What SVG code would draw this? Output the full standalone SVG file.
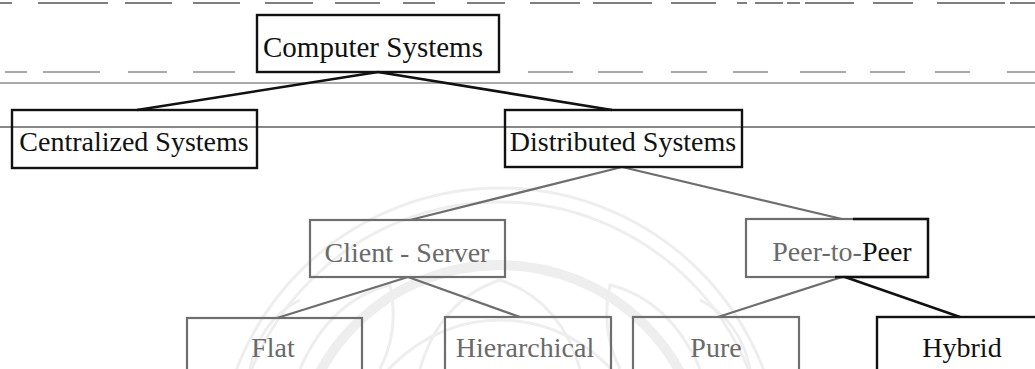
<svg xmlns="http://www.w3.org/2000/svg" width="1035" height="369" viewBox="0 0 1035 369">
  <style>
    .lbl { font-family: "Liberation Serif", "Times New Roman", serif; font-size: 28px; text-anchor: middle; }
    .dark { fill: #111; }
    .grey { fill: #6a6a6a; }
    .box-dark { fill: none; stroke: #111; stroke-width: 2.4; }
    .box-grey { fill: none; stroke: #6e6e6e; stroke-width: 2.2; }
    .ln-dark { stroke: #111; stroke-width: 2.6; fill: none; }
    .ln-grey { stroke: #6e6e6e; stroke-width: 2.3; fill: none; }
    .rule { stroke: #555; fill: none; }
    .seal { fill: none; stroke: #eeeeee; }
  </style>

  <rect width="1035" height="369" fill="#fff"/>

  <!-- faint seal in the background -->
  <g id="seal">
    <circle class="seal" cx="500" cy="470" r="282" stroke-width="3"/>
    <circle class="seal" cx="500" cy="470" r="268" stroke-width="3"/>
    <circle class="seal" cx="500" cy="470" r="205" stroke-width="10"/>
    <circle class="seal" cx="500" cy="470" r="150" stroke-width="3"/>
    <path class="seal" stroke-width="3" d="M300 369 Q330 300 390 285 Q400 330 380 369"/>
    <path class="seal" stroke-width="3" d="M700 369 Q670 300 610 285 Q600 330 620 369"/>
    <path class="seal" stroke-width="3" d="M420 369 Q440 300 500 280 Q560 300 580 369"/>
    <path class="seal" stroke-width="3" d="M250 369 Q260 320 300 300"/>
    <path class="seal" stroke-width="3" d="M750 369 Q740 320 700 300"/>
  </g>

  <!-- page rules -->
  <g id="rules">
    <line class="rule" x1="0" y1="3" x2="1035" y2="3" stroke-width="1.5" stroke-dasharray="12 26 70 17 47 21 47 25 48 22 45 23 32 32 38 25 50 13 59 19 45 21 10 8 28 4 13 5 49 19 40 24 68 5 30"/>
    <line class="rule" x1="5" y1="72" x2="1035" y2="72" stroke-width="1.2" stroke-dasharray="22 16 57 28 39 26 42 293 45 25 45 28 36 26 35 32 46 24 35 30 35 37 28"/>
    <line class="rule" x1="0" y1="83" x2="1035" y2="83" stroke-width="1"/>
    <line x1="0" y1="127" x2="1035" y2="127" stroke="#888" stroke-width="2"/>
  </g>

  <!-- connectors -->
  <g id="connectors">
    <line class="ln-dark" x1="378" y1="72" x2="137" y2="110"/>
    <line class="ln-dark" x1="378" y1="72" x2="612" y2="110"/>
    <line class="ln-grey" x1="622" y1="167" x2="410" y2="220"/>
    <line class="ln-grey" x1="622" y1="167" x2="842" y2="219"/>
    <line class="ln-grey" x1="408" y1="277" x2="277" y2="318"/>
    <line class="ln-grey" x1="408" y1="277" x2="520" y2="317"/>
    <line class="ln-grey" x1="842" y1="277" x2="718" y2="317"/>
    <line class="ln-dark" x1="845" y1="277" x2="960" y2="317"/>
  </g>

  <g id="computer-systems">
    <rect class="box-dark" x="257" y="15" width="242" height="57"/>
    <text class="lbl dark" x="373" y="57" style="font-size:29px">Computer Systems</text>
  </g>

  <g id="centralized-systems">
    <rect class="box-dark" x="12" y="110" width="245" height="58"/>
    <text class="lbl dark" x="134" y="151">Centralized Systems</text>
  </g>

  <g id="distributed-systems">
    <rect class="box-dark" x="505" y="110" width="237" height="57"/>
    <text class="lbl dark" x="623" y="151">Distributed Systems</text>
  </g>

  <g id="client-server">
    <rect class="box-grey" x="310" y="220" width="195" height="57"/>
    <text class="lbl grey" x="407" y="262">Client - Server</text>
  </g>

  <g id="peer-to-peer">
    <rect class="box-grey" x="746" y="219" width="182" height="58"/>
    <path class="box-dark" d="M853 219 H928 V277 H835"/>
    <text class="lbl" x="842" y="261"><tspan class="grey">Peer-to-</tspan><tspan class="dark">Peer</tspan></text>
  </g>

  <g id="flat">
    <rect class="box-grey" x="187" y="318" width="175" height="60"/>
    <text class="lbl grey" x="273" y="357">Flat</text>
  </g>

  <g id="hierarchical">
    <rect class="box-grey" x="445" y="317" width="166" height="60"/>
    <text class="lbl grey" x="525" y="357">Hierarchical</text>
  </g>

  <g id="pure">
    <rect class="box-grey" x="633" y="317" width="166" height="60"/>
    <text class="lbl grey" x="716" y="357">Pure</text>
  </g>

  <g id="hybrid">
    <rect class="box-dark" x="877" y="317" width="172" height="60"/>
    <text class="lbl dark" x="962" y="357">Hybrid</text>
  </g>
</svg>
